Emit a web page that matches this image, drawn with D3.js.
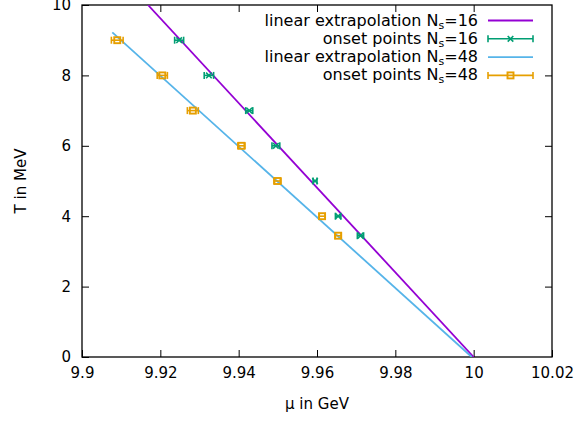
<!DOCTYPE html>
<html>
<head>
<meta charset="utf-8">
<script src="https://cdn.jsdelivr.net/npm/d3@7"></script>
<style>
  body { margin: 0; background: #fff; }
  svg { display: block; font-family: "DejaVu Sans", sans-serif; }
</style>
</head>
<body>
<svg id="chart" width="587" height="421"></svg>
<script>
// ---- data ----
const xTicks = [9.9, 9.92, 9.94, 9.96, 9.98, 10, 10.02];
const xTickLabels = ["9.9", "9.92", "9.94", "9.96", "9.98", "10", "10.02"];
const yTicks = [0, 2, 4, 6, 8, 10];
const yTickLabels = ["0", "2", "4", "6", "8", "10"];

const T16 = [9, 8, 7, 6, 5, 4, 3.446];
const mu16 = [9.9248, 9.9324, 9.9427, 9.9495, 9.9595, 9.9654, 9.9711];
const err16 = [0.00115, 0.0012, 0.0009, 0.001, 0.0005, 0.0007, 0.0008];

const T48 = [9, 8, 7, 6, 5, 4, 3.446];
const mu48 = [9.9090, 9.9205, 9.9283, 9.9407, 9.9499, 9.9613, 9.9654];
const err48 = [0.0015, 0.0013, 0.0014, 0.0009, 0.0009, 0.0008, 0.0008];

// linear extrapolation endpoints (mu, T)
const fit16mu = [9.91685, 10.0];
const fit16T = [10, 0];
const fit48mu = [9.90774, 9.9995];
const fit48T = [9.224, 0];

const legendLabels = ["linear extrapolation N", "onset points N", "linear extrapolation N", "onset points N"];
const legendSuffix = ["=16", "=16", "=48", "=48"];

const colors = { fit16: "#9400d3", pts16: "#009e73", fit48: "#56b4e9", pts48: "#e69f00" };

// ---- layout ----
const svg = d3.select("#chart");
const L = 82, R = 552, Tp = 5, B = 357;
const x = d3.scaleLinear().domain([9.9, 10.02]).range([L, R]);
const y = d3.scaleLinear().domain([0, 10]).range([B, Tp]);
const fs = 15, legFs = 16, tickLen = 7;

const defs = svg.append("defs");
defs.append("clipPath").attr("id", "clip")
  .append("rect").attr("x", L).attr("y", Tp).attr("width", R - L).attr("height", B - Tp);

// axes (inward ticks on all four sides)
const axB = svg.append("g").attr("transform", `translate(0,${B})`)
  .call(d3.axisBottom(x).tickValues(xTicks).tickFormat((d, i) => xTickLabels[i]).tickSizeInner(-tickLen).tickSizeOuter(0).tickPadding(12));
const axT = svg.append("g").attr("transform", `translate(0,${Tp})`)
  .call(d3.axisTop(x).tickValues(xTicks.slice(1, -1)).tickFormat("").tickSizeInner(-tickLen).tickSizeOuter(0));
const axL = svg.append("g").attr("transform", `translate(${L},0)`)
  .call(d3.axisLeft(y).tickValues(yTicks).tickFormat((d, i) => yTickLabels[i]).tickSizeInner(-tickLen).tickSizeOuter(0).tickPadding(11));
const axR = svg.append("g").attr("transform", `translate(${R},0)`)
  .call(d3.axisRight(y).tickValues(yTicks.slice(1, -1)).tickFormat("").tickSizeInner(-tickLen).tickSizeOuter(0));
[axB, axT, axL, axR].forEach(a => {
  a.select(".domain").remove();
  a.selectAll("line").attr("stroke", "#000").attr("stroke-width", 1);
  a.selectAll("text").attr("font-size", fs).attr("font-family", "DejaVu Sans, sans-serif").attr("fill", "#000");
});
axB.selectAll("text").attr("dy", "0.6em");

// frame
svg.append("rect").attr("x", L).attr("y", Tp).attr("width", R - L).attr("height", B - Tp)
  .attr("fill", "none").attr("stroke", "#000").attr("stroke-width", 1.3);

// axis titles
svg.append("text").attr("x", (L + R) / 2).attr("y", 409).attr("text-anchor", "middle")
  .attr("font-size", fs).text("μ in GeV");
svg.append("text").attr("transform", `translate(26,${(Tp + B) / 2}) rotate(-90)`).attr("text-anchor", "middle")
  .attr("font-size", fs).text("T in MeV");

const plot = svg.append("g").attr("clip-path", "url(#clip)");
const line = d3.line().x(d => x(d[0])).y(d => y(d[1]));

function fitLine(muArr, TArr, color) {
  plot.append("path").datum(muArr.map((m, i) => [m, TArr[i]]))
    .attr("d", line).attr("fill", "none").attr("stroke", color).attr("stroke-width", 1.8);
}
fitLine(fit16mu, fit16T, colors.fit16);
fitLine(fit48mu, fit48T, colors.fit48);

const capH = 3.5;
function errBars(g, muArr, TArr, errArr, color) {
  muArr.forEach((m, i) => {
    const cy = y(TArr[i]), x0 = x(m - errArr[i]), x1 = x(m + errArr[i]);
    g.append("line").attr("x1", x0).attr("x2", x1).attr("y1", cy).attr("y2", cy)
      .attr("stroke", color).attr("stroke-width", 1.6);
    [x0, x1].forEach(xc => g.append("line").attr("x1", xc).attr("x2", xc)
      .attr("y1", cy - capH).attr("y2", cy + capH).attr("stroke", color).attr("stroke-width", 1.6));
  });
}
function crossMark(g, cx, cy, color) {
  const s = 2.8;
  g.append("path").attr("d", `M${cx - s},${cy - s}L${cx + s},${cy + s}M${cx - s},${cy + s}L${cx + s},${cy - s}`)
    .attr("stroke", color).attr("stroke-width", 1.6).attr("fill", "none");
}
function squareMark(g, cx, cy, color) {
  const s = 3;
  g.append("rect").attr("x", cx - s).attr("y", cy - s).attr("width", 2 * s).attr("height", 2 * s)
    .attr("fill", "none").attr("stroke", color).attr("stroke-width", 1.9);
}

const g16 = plot.append("g");
errBars(g16, mu16, T16, err16, colors.pts16);
mu16.forEach((m, i) => crossMark(g16, x(m), y(T16[i]), colors.pts16));
const g48 = plot.append("g");
errBars(g48, mu48, T48, err48, colors.pts48);
mu48.forEach((m, i) => squareMark(g48, x(m), y(T48[i]), colors.pts48));

// legend
const legTextX = 478, legX0 = 488, legX1 = 533, legY0 = 20.5, legDy = 18.3;
const legKinds = ["fit16", "pts16", "fit48", "pts48"];
legKinds.forEach((k, i) => {
  const ly = legY0 + i * legDy;
  const t = svg.append("text").attr("x", legTextX).attr("y", ly + 5).attr("text-anchor", "end").attr("font-size", legFs);
  t.append("tspan").text(legendLabels[i]);
  t.append("tspan").attr("font-size", 11).attr("dy", 3).text("s");
  t.append("tspan").attr("dy", -3).text(legendSuffix[i]);
  const c = colors[k];
  const lg = svg.append("g");
  if (k.startsWith("fit")) {
    lg.append("line").attr("x1", legX0).attr("x2", legX1).attr("y1", ly).attr("y2", ly)
      .attr("stroke", c).attr("stroke-width", 1.8);
  } else {
    lg.append("line").attr("x1", legX0).attr("x2", legX1).attr("y1", ly).attr("y2", ly)
      .attr("stroke", c).attr("stroke-width", 1.6);
    [legX0, legX1].forEach(xc => lg.append("line").attr("x1", xc).attr("x2", xc)
      .attr("y1", ly - capH).attr("y2", ly + capH).attr("stroke", c).attr("stroke-width", 1.6));
    const mx = (legX0 + legX1) / 2;
    if (k === "pts16") crossMark(lg, mx, ly, c); else squareMark(lg, mx, ly, c);
  }
});
</script>
</body>
</html>
